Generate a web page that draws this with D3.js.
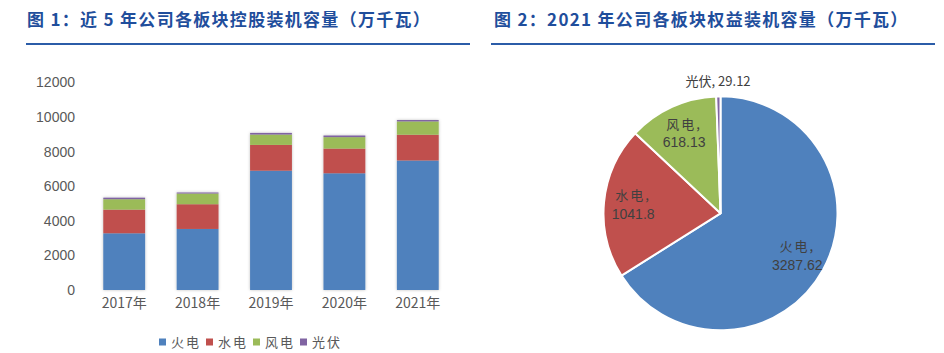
<!DOCTYPE html>
<html>
<head>
<meta charset="utf-8">
<script src="https://cdn.jsdelivr.net/npm/d3@7"></script>
<style>
  body { margin: 0; background: #fff; }
  text { font-family: "Noto Sans CJK SC", "Liberation Sans", sans-serif; }
</style>
</head>
<body>
<svg id="chart" width="944" height="353"></svg>
<script>
// data
var years = ["2017年", "2018年", "2019年", "2020年", "2021年"];
var types = ["火电", "水电", "风电", "光伏"];
var huodian = [3280, 3530, 6900, 6750, 7490];
var shuidian = [1370, 1430, 1490, 1430, 1490];
var fengdian = [600, 620, 600, 660, 770];
var guangfu = [90, 60, 95, 95, 80];
var yTicks = [0, 2000, 4000, 6000, 8000, 10000, 12000];
var pieValues = [3287.62, 1041.8, 618.13, 29.12];
var pieLabels = ["3287.62", "1041.8", "618.13", "29.12"];

var colors = ["#4F81BD", "#C0504D", "#9BBB59", "#8064A2"];
var titleColor = "#1F4E9C";

var svg = d3.select("#chart");

// shadow for bars
var defs = svg.append("defs");
var f = defs.append("filter").attr("id", "shadow")
  .attr("x", "-20%").attr("y", "-5%").attr("width", "140%").attr("height", "110%");
f.append("feDropShadow").attr("dx", 0).attr("dy", 0).attr("stdDeviation", 1.5)
  .attr("flood-color", "#000").attr("flood-opacity", 0.25);

/* titles */
function title(x, x1, x2, txt) {
  svg.append("text")
    .attr("x", x).attr("y", 26)
    .attr("fill", titleColor)
    .style("font-size", "17px")
    .style("font-weight", "bold")
    .style("letter-spacing", "1.3px")
    .text(txt);
  svg.append("line")
    .attr("x1", x1).attr("x2", x2)
    .attr("y1", 44).attr("y2", 44)
    .attr("stroke", "#2B5CA8")
    .attr("stroke-width", 2);
}
title(27, 26, 470, "图 1：近 5 年公司各板块控股装机容量（万千瓦）");
title(494, 491, 935, "图 2：2021 年公司各板块权益装机容量（万千瓦）");

/* Chart 1 - stacked bars */
var rows = years.map(function (y, i) {
  return { year: y, 火电: huodian[i], 水电: shuidian[i], 风电: fengdian[i], 光伏: guangfu[i] };
});

var x = d3.scaleBand().domain(years).range([87.5, 454.5]).paddingInner(0.43).paddingOuter(0.215);
var y = d3.scaleLinear().domain([0, 12000]).range([290, 82.5]);

var yAxis = d3.axisLeft(y).tickValues(yTicks).tickFormat(d3.format("d")).tickSize(0).tickPadding(0);
var ya = svg.append("g").attr("transform", "translate(75,0)").call(yAxis);
ya.select(".domain").remove();
ya.selectAll(".tick text")
  .style("font-size", "14px")
  .style("font-family", "Liberation Sans, Arial, sans-serif")
  .attr("fill", "#595959");

var stack = d3.stack().keys(types)(rows);

var bars = svg.append("g").attr("filter", "url(#shadow)");
bars.selectAll("g")
  .data(stack)
  .join("g")
  .attr("fill", function (d, i) { return colors[i]; })
  .selectAll("rect")
  .data(function (d) { return d; })
  .join("rect")
  .attr("x", function (d) { return x(d.data.year); })
  .attr("width", x.bandwidth())
  .attr("y", function (d) { return y(d[1]); })
  .attr("height", function (d) { return y(d[0]) - y(d[1]); });

var xAxis = d3.axisBottom(x).tickSize(0).tickPadding(0);
var xa = svg.append("g").attr("transform", "translate(0,298)").call(xAxis);
xa.select(".domain").remove();
xa.selectAll(".tick text")
  .attr("dy", "0.71em")
  .style("font-size", "14px")
  .attr("fill", "#595959");

// legend
var legend = svg.append("g").attr("transform", "translate(159,342)");
var li = legend.selectAll("g")
  .data(types)
  .join("g")
  .attr("transform", function (d, i) { return "translate(" + (i * 47) + ",0)"; });
li.append("rect")
  .attr("x", 0).attr("y", -3.5)
  .attr("width", 7).attr("height", 7)
  .attr("fill", function (d, i) { return colors[i]; });
li.append("text")
  .attr("x", 12).attr("y", 0)
  .attr("dy", "0.35em")
  .style("font-size", "13px")
  .style("letter-spacing", "2px")
  .attr("fill", "#595959")
  .text(function (d) { return d; });

/* Chart 2 - pie */
var cx = 720.5, cy = 213.3, r = 117;
var pie = d3.pie().sort(null)(pieValues);
var arc = d3.arc().innerRadius(0).outerRadius(r);
var labelArc = d3.arc().innerRadius(r * 0.75).outerRadius(r * 0.75);

var pg = svg.append("g").attr("transform", "translate(" + cx + "," + cy + ")");
pg.selectAll("path")
  .data(pie)
  .join("path")
  .attr("d", arc)
  .attr("fill", function (d, i) { return colors[i]; })
  .attr("stroke", "#fff")
  .attr("stroke-width", 2)
  .attr("stroke-linejoin", "round");

var labels = pg.selectAll("g.lab")
  .data(pie)
  .join("g")
  .attr("class", "lab");

labels.each(function (d, i) {
  var g = d3.select(this);
  if (i === 3) {
    // small slice: label outside above the pie
    var a = (d.startAngle + d.endAngle) / 2;
    g.append("text")
      .attr("x", Math.sin(a) * (r + 15))
      .attr("y", -Math.cos(a) * (r + 15))
      .attr("text-anchor", "middle")
      .attr("dy", "0.35em")
      .style("font-size", "13px")
      .attr("fill", "#404040")
      .text(types[i] + ", " + pieLabels[i]);
  } else {
    var c = labelArc.centroid(d);
    g.append("text")
      .attr("x", c[0]).attr("y", c[1] - 9)
      .attr("text-anchor", "middle")
      .attr("dy", "0.35em")
      .style("font-size", "13px")
      .style("letter-spacing", "2px")
      .attr("fill", "#404040")
      .text(types[i] + ",");
    g.append("text")
      .attr("x", c[0]).attr("y", c[1] + 9)
      .attr("text-anchor", "middle")
      .attr("dy", "0.35em")
      .style("font-size", "14px")
      .style("font-family", "Liberation Sans, Arial, sans-serif")
      .attr("fill", "#404040")
      .text(pieLabels[i]);
  }
});
</script>
</body>
</html>
